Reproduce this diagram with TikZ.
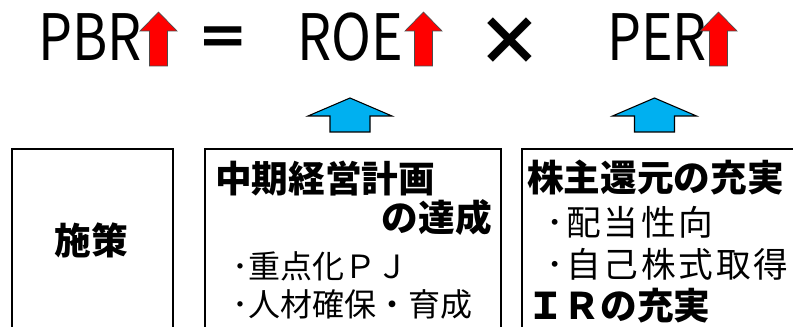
\documentclass[tikz,border=0pt]{standalone}
\usepackage{fontspec}
\setmainfont{Noto Sans CJK JP}
\newfontfamily\lightjp{Noto Sans CJK JP}[LetterSpace=8]
\usetikzlibrary{positioning}
\definecolor{upred}{RGB}{255,0,0}
\definecolor{upblue}{RGB}{0,176,240}

\begin{document}
\begin{tikzpicture}[x=0.75pt,y=-0.75pt,
  big/.style={font=\fontsize{48}{48}\selectfont, inner sep=0pt, xscale=0.84, transform shape},
  sign/.style={font=\fontsize{40}{40}\selectfont\bfseries, inner sep=0pt},
  panel/.style={draw, line width=1.1pt},
  heading/.style={font=\fontsize{27.5}{28}\selectfont\bfseries, inner sep=0pt},
  item/.style={font=\fontsize{26}{28}\selectfont\lightjp, inner sep=0pt},
  smallitem/.style={font=\fontsize{24}{28}\selectfont, inner sep=0pt},
  redup/.style={fill=upred, draw=black!70, line width=0.5pt},
  blueup/.style={fill=upblue, draw=black, line width=0.8pt}]
%  \draw[step=20,gray,very thin] (0,0) grid (793,327);	% for debug
  \clip (0,0) rectangle (793,327);
  % formula
  \node[big, anchor=base west] (pbr) at (38,61) {PBR};
  \node[big, anchor=base west] (roe) at (297,61) {ROE};
  \node[big, anchor=base west] (per) at (607,61) {PER};
  \node[sign] (eq) at (223.5,42) {＝};
  \node[sign, font=\fontsize{50}{50}\selectfont\bfseries] (times) at (509.5,41.5) {×};
  % red arrows
  \foreach \x in {158.5, 423.5, 718.5} {
    \draw[redup] (\x,12) -- ++(18.5,19) -- ++(-9.5,0) -- ++(0,35) -- ++(-18,0) -- ++(0,-35) -- ++(-9.5,0) -- cycle;
  };
  % blue arrows
  \foreach \x in {350, 654.5} {
    \draw[blueup] (\x,98) -- ++(42,18) -- ++(-22,0) -- ++(0,16) -- ++(-40,0) -- ++(0,-16) -- ++(-22,0) -- cycle;
  };
  % panels
  \draw[panel] (12,149) rectangle (173,345);
  \draw[panel] (205,149) rectangle (501,345);
  \draw[panel] (522,149) rectangle (805,345);
  % texts
  \node[heading] (measure) at (91.5,240) {施策};
  \node[heading, anchor=west] (plan) at (215,179) {中期経営計画};
  \node[heading, anchor=east] (achieve) at (492,218) {の達成};
  \node[smallitem, anchor=west] (pj) at (232,266) {･重点化ＰＪ};
  \node[smallitem, anchor=west] (staff) at (232,304) {･人材確保・育成};
  \node[heading, anchor=west] (return) at (527,178) {株主還元の充実};
  \node[item, anchor=west] (payout) at (546,222) {･配当性向};
  \node[item, anchor=west] (buyback) at (546,264) {･自己株式取得};
  \node[heading, anchor=west] (ir) at (527,306) {ＩＲの充実};
\end{tikzpicture}
\end{document}
